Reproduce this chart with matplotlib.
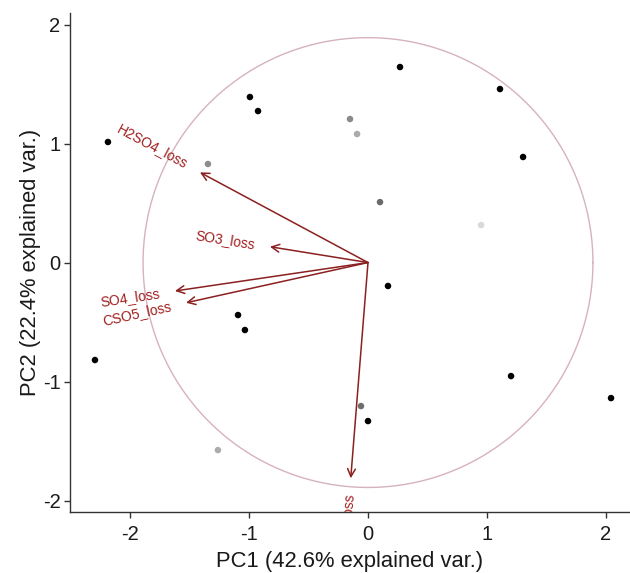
import numpy as np
import matplotlib
matplotlib.use("Agg")
import matplotlib.pyplot as plt

plt.rcParams['font.family'] = ['Liberation Sans', 'DejaVu Sans']

# Sample scores on the first two principal components
pc1_scores = [-2.185, -0.992, -0.924, 0.269, 1.109, 1.303, -0.151, -0.092, -1.345, 0.101,
              0.950, 0.168, -1.092, -1.034, -2.294, 1.202, 2.042, -0.059, 0.000, -1.261]
pc2_scores = [1.013, 1.391, 1.273, 1.643, 1.458, 0.887, 1.206, 1.080, 0.828, 0.508,
              0.315, -0.197, -0.441, -0.567, -0.819, -0.954, -1.139, -1.206, -1.332, -1.576]
point_colors = ['#000000', '#000000', '#000000', '#000000', '#000000', '#000000',
                '#8a8a8a', '#aaaaaa', '#8c8c8c', '#6a6a6a', '#d9d9d9', '#000000',
                '#000000', '#000000', '#000000', '#000000', '#000000', '#6e6e6e',
                '#000000', '#acacac']

# Variable loadings (arrows)
var_names = ['H2SO4_loss', 'SO3_loss', 'SO4_loss', 'CSO5_loss', 'SO2_loss']
load_pc1 = [-1.412, -0.824, -1.622, -1.529, -0.145]
load_pc2 = [0.758, 0.133, -0.239, -0.338, -1.813]

circle_radius = 1.89

x_ticks = [-2, -1, 0, 1, 2]
y_ticks = [-2, -1, 0, 1, 2]
x_title = 'PC1 (42.6% explained var.)'
y_title = 'PC2 (22.4% explained var.)'

fig = plt.figure(figsize=(6.3, 5.73), dpi=100)
ax = fig.add_axes([69.5 / 630, 1 - 511.5 / 573, (629 - 69.5) / 630, (511.5 - 13) / 573])
ax.set_xlim(-2.508, 2.193)
ax.set_ylim(-2.092, 2.097)

# correlation circle
theta = np.linspace(0, 2 * np.pi, 200)
ax.plot(circle_radius * np.cos(theta), circle_radius * np.sin(theta),
        color='#d6b2bc', lw=1.0, zorder=1)

# sample points
ax.scatter(pc1_scores, pc2_scores, s=22, c=point_colors, edgecolors='none', zorder=2)

# loading arrows and their labels, labels pushed a little past each arrow tip
arrow_col = '#8b2020'
label_gap = 11.0  # points
for name, lx, ly in zip(var_names, load_pc1, load_pc2):
    ax.annotate('', xy=(lx, ly), xytext=(0, 0),
                arrowprops=dict(arrowstyle='->', color=arrow_col, lw=1.1,
                                mutation_scale=14, shrinkA=0, shrinkB=0),
                zorder=3)
    ang = np.degrees(np.arctan(ly / lx))
    norm = np.hypot(lx, ly)
    ha = 'right' if lx < 0 else 'left'
    ax.annotate(name, xy=(lx, ly),
                xytext=(label_gap * lx / norm, label_gap * ly / norm),
                textcoords='offset points', rotation=ang, rotation_mode='anchor',
                ha=ha, va='center', fontsize=10, color='#a01c1c',
                annotation_clip=False, clip_on=True, zorder=4)

ax.set_xticks(x_ticks)
ax.set_yticks(y_ticks)
ax.set_xticklabels([str(v) for v in x_ticks])
ax.set_yticklabels([str(v) for v in y_ticks])
ax.tick_params(axis='x', length=4, width=1.0, color='#333333', labelsize=14.5,
               labelcolor='#1a1a1a', pad=6)
ax.tick_params(axis='y', length=4, width=1.0, color='#333333', labelsize=14.5,
               labelcolor='#1a1a1a', pad=2.5)

for side in ['top', 'right']:
    ax.spines[side].set_visible(False)
for side in ['left', 'bottom']:
    ax.spines[side].set_color('#333333')
    ax.spines[side].set_linewidth(1.0)

ax.set_xlabel(x_title, fontsize=15.8, color='#1a1a1a', labelpad=5)
ax.set_ylabel(y_title, fontsize=15.8, color='#1a1a1a', labelpad=1)

fig.savefig('out.png', dpi=100, facecolor='white')
